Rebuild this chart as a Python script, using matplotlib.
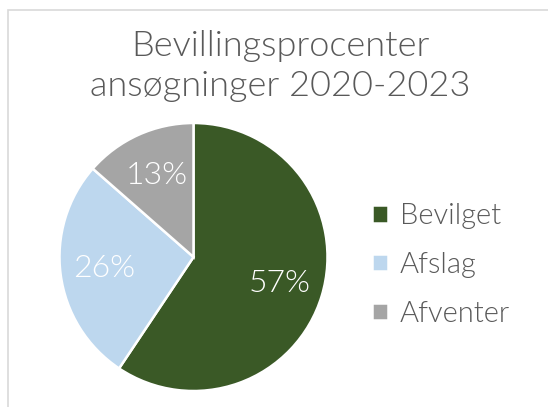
import matplotlib
matplotlib.use("Agg")
import matplotlib.pyplot as plt
from matplotlib.patches import Rectangle

# data
kategorier = ["Bevilget", "Afslag", "Afventer"]
procenter = [57, 26, 13]
farver = ["#3A5926", "#BDD7EE", "#A5A5A5"]
titel = "Bevillingsprocenter\nansøgninger 2020-2023"

plt.rcParams["font.family"] = ["Lato", "DejaVu Sans"]
plt.rcParams["font.weight"] = 300

W, H = 548, 407
fig = plt.figure(figsize=(W / 100, H / 100), dpi=100)
fig.patch.set_facecolor("white")

# ramme rundt om diagrammet (som i Excel)
fig.patches.append(Rectangle((8 / W, -0.05), 1.1, (H - 10) / H + 0.05,
                             transform=fig.transFigure, fill=False,
                             edgecolor="#D9D9D9", linewidth=1.2))

# pie: centrum ca. (193, 257) px fra top, radius ca. 134 px
r = 134
cx, cy = 193.5, H - 257
ax = fig.add_axes([(cx - r) / W, (cy - r) / H, 2 * r / W, 2 * r / H])
wedges, tekster = ax.pie(procenter, colors=farver, startangle=90, counterclock=False,
                         labels=[f"{p}%" for p in procenter], labeldistance=0.67,
                         wedgeprops=dict(edgecolor="white", linewidth=1.8))
for t in tekster:
    t.set_color("white")
    t.set_fontsize(23)
    t.set_fontweight(300)
    t.set_ha("center")
    t.set_va("center")
ax.set_xlim(-1, 1)
ax.set_ylim(-1, 1)
ax.set_aspect("equal")

fig.text(280 / W, 1 - 66 / H, titel, ha="center", va="center", fontsize=26,
         color="#595959", fontweight=300, linespacing=1.28)

leg = fig.legend(wedges, kategorier, loc="center left", bbox_to_anchor=(346 / W, 1 - 265 / H),
                 frameon=False, labelcolor="#595959", handlelength=0.55,
                 handleheight=0.55, handletextpad=0.4, labelspacing=0.78,
                 prop={"weight": 300, "size": 21})

fig.savefig("out.png", dpi=100)
